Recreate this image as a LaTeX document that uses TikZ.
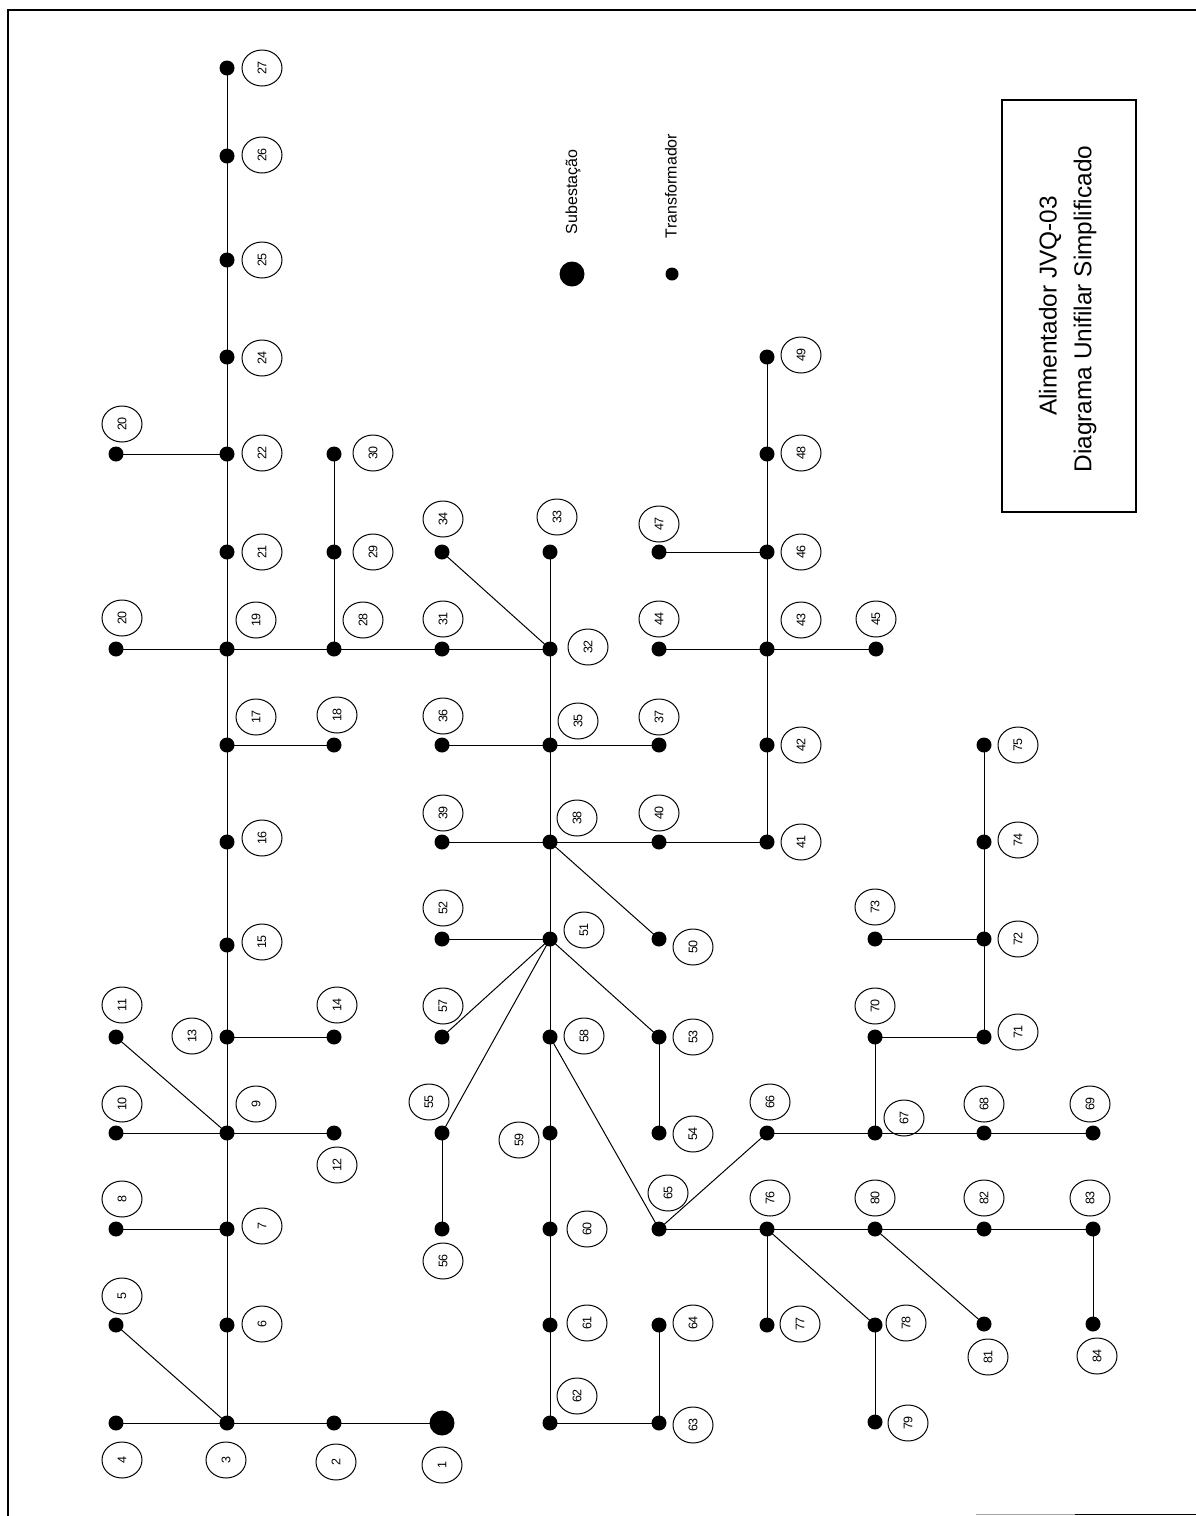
\documentclass[tikz,border=0pt]{standalone}
\usepackage{fontspec}
\setmainfont{Liberation Sans}
\usetikzlibrary{shapes.geometric}
\tikzset{
  bus/.style={circle,fill=black,draw=none,inner sep=0pt,minimum width=15pt},
  subst/.style={circle,fill=black,draw=none,inner sep=0pt,minimum width=25pt},
  busleg/.style={circle,fill=black,draw=none,inner sep=0pt,minimum width=13pt},
  tag/.style={ellipse,draw=black,line width=1pt,inner sep=0pt,minimum width=36pt,minimum height=40pt,rotate=90,font=\fontsize{12.5}{12.5}\selectfont},
  wire/.style={draw=black,line width=1pt},
  frameline/.style={draw=black,line width=1.3pt},
  legendtxt/.style={rotate=90,font=\fontsize{16}{16}\selectfont},
  titletxt/.style={rotate=90,font=\fontsize{24.4}{24.4}\selectfont},
}
\begin{document}
\begin{tikzpicture}[x=1pt,y=-1pt]
\useasboundingbox (0,0) rectangle (1196,1516);
\fill[white] (0,0) rectangle (1196,1516);
\coordinate (fa) at (8,1516);
\coordinate (fb) at (8,10);
\coordinate (fc) at (1196,10);
\draw[frameline] (fa) -- (fb) -- (fc);
\coordinate (fg) at (976,1514.5);
\coordinate (fd) at (1075,1514.5);
\coordinate (fe) at (1196,1514.5);
\draw[frameline,draw=black!35] (fg) -- (fd);
\draw[frameline] (fd) -- (fe);
% buses
\foreach \n/\x/\y in {2/334/1423,3/227/1423,4/116/1423,5/116/1325,6/227/1325,7/227/1229,8/116/1229,9/227/1133,10/116/1133,11/116/1037,12/334/1133,13/227/1037,14/334/1037,15/227/945,16/227/842,17/227/745,18/334/745,19/227/649,20/116/649,21/227/552,22/227/454,23/116/454,24/227/357,25/227/260,26/227/156,27/227/68,28/334/649,29/334/552,30/334/454,31/442/649,32/550/649,33/550/552,34/442/552,35/550/745,36/442/745,37/659/745,38/550/842,39/442/842,40/659/842,41/767/842,42/767/745,43/767/649,44/659/649,45/876/649,46/767/552,47/659/552,48/767/454,49/767/357,50/659/939,51/550/939,52/442/939,53/659/1037,54/659/1133,55/442/1133,56/442/1229,57/442/1037,58/550/1037,59/550/1133,60/550/1229,61/550/1325,62/550/1423,63/659/1423,64/659/1325,65/659/1229,66/767/1133,67/875/1133,68/984/1133,69/1093/1133,70/875/1037,71/984/1037,72/984/939,73/875/939,74/984/842,75/984/745,76/767/1229,77/767/1325,78/875/1325,79/875/1422,80/875/1229,81/984/1324,82/984/1229,83/1093/1229,84/1093/1324}
  \node[bus] (b\n) at (\x,\y) {};
\node[subst] (b1) at (442,1423) {};
% connectors
\foreach \a/\b in {1/2,2/3,3/4,3/5,3/6,6/7,7/9,9/13,13/15,15/16,16/17,17/19,19/21,21/22,22/24,24/25,25/26,26/27,7/8,9/10,9/11,9/12,13/14,17/18,20/19,23/22,19/28,28/31,31/32,28/29,29/30,32/33,32/34,32/35,35/38,38/51,51/58,58/59,59/60,60/61,61/62,62/63,63/64,35/36,35/37,38/39,38/40,40/41,41/42,42/43,43/46,46/48,48/49,43/44,43/45,46/47,38/50,51/52,51/53,53/54,51/57,51/55,55/56,58/65,65/66,66/67,67/68,68/69,67/70,70/71,71/72,72/74,74/75,72/73,65/76,76/80,80/82,82/83,83/84,76/77,76/78,78/79,80/81}
  \draw[wire] (b\a.center) -- (b\b.center);
% tags
\foreach \n/\t/\x/\y in {1/1/442/1465,2/2/336/1462,3/3/226/1460,4/4/122/1460,5/5/122/1296,6/6/262/1324,7/7/262/1226,8/8/122/1199,9/9/256/1104,10/10/122/1104,11/11/122/1005,12/12/337/1165,13/13/192/1036,14/14/337/1005,15/15/262/942,16/16/262/838,17/17/256/717,18/18/337/715,19/19/256/620,20/20/122/618,21/21/262/552,22/22/262/453,23/20/122/424,24/24/262/358,25/25/262/260,26/26/262/155,27/27/262/68,28/28/363/620,29/29/373/552,30/30/373/453,31/31/443/619,32/32/588/647,33/33/557/517,34/34/443/519,35/35/578/721,36/36/443/716,37/37/659/717,38/38/577/818,39/39/443/813,40/40/659/813,41/41/801/842,42/42/801/745,43/43/801/620,44/44/659/619,45/45/876/619,46/46/801/552,47/47/659/524,48/48/801/453,49/49/801/355,50/50/693/947,51/51/584/930,52/52/443/908,53/53/693/1037,54/54/693/1134,55/55/429/1102,56/56/443/1261,57/57/443/1006,58/58/584/1036,59/59/519/1140,60/60/587/1229,61/61/587/1323,62/62/577/1396,63/63/693/1425,64/64/693/1323,65/65/668/1193,66/66/770/1102,67/67/904/1118,68/68/984/1104,69/69/1090/1104,70/70/875/1006,71/71/1018/1032,72/72/1018/939,73/73/875/907,74/74/1018/840,75/75/1018/745,76/76/770/1198,77/77/800/1324,78/78/906/1323,79/79/908/1423,80/80/875/1198,81/81/988/1357,82/82/984/1198,83/83/1090/1198,84/84/1097/1356}
  \node[tag] (t\n) at (\x,\y) {\t};
% legend
\node[subst] (legS) at (572,274) {};
\node[legendtxt] (legSt) at (573,192) {Subestação};
\node[busleg] (legT) at (672,274) {};
\node[legendtxt] (legTt) at (671,186) {Transformador};
% title box
\node[draw=black,line width=1.2pt,inner sep=0pt,minimum width=134pt,minimum height=412pt] (tbox) at (1069,306) {};
\node[titletxt] (ttl1) at (1050,306) {Alimentador JVQ-03};
\node[titletxt] (ttl2) at (1085,309) {Diagrama Unifilar Simplificado};
\end{tikzpicture}
\end{document}
